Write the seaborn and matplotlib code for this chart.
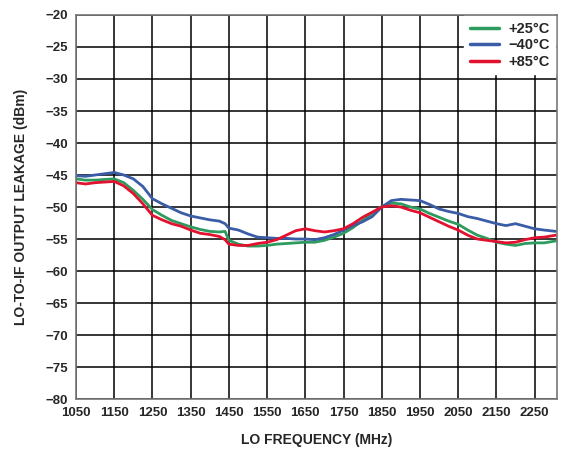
import numpy as np
import pandas as pd
import matplotlib
matplotlib.use("Agg")
import matplotlib.pyplot as plt
import seaborn as sns

freq = [1050, 1075, 1100, 1125, 1150, 1175, 1200, 1225, 1250, 1275, 1300, 1325,
        1350, 1375, 1400, 1425, 1440, 1450, 1475, 1500, 1525, 1550, 1575, 1600,
        1625, 1650, 1675, 1700, 1725, 1750, 1775, 1800, 1825, 1850, 1875, 1900,
        1925, 1950, 1975, 2000, 2025, 2050, 2075, 2100, 2125, 2150, 2175, 2200,
        2225, 2250, 2275, 2305]

leak_25 = [-45.6, -45.8, -45.8, -45.7, -45.6, -46.2, -47.4, -48.8, -50.4, -51.3, -52.1, -52.6,
           -53.1, -53.5, -53.8, -53.9, -53.8, -55.2, -55.8, -56.1, -56.1, -56.0, -55.8, -55.7,
           -55.6, -55.5, -55.5, -55.2, -54.7, -54.1, -53.2, -52.1, -51.0, -49.9, -49.4, -49.5,
           -50.0, -50.3, -51.0, -51.6, -52.2, -52.7, -53.6, -54.4, -54.9, -55.5, -55.8, -56.0,
           -55.7, -55.6, -55.6, -55.3]

leak_m40 = [-45.1, -45.2, -45.0, -44.8, -44.6, -45.0, -45.6, -46.8, -48.7, -49.5, -50.2, -50.9,
            -51.4, -51.7, -52.0, -52.2, -52.6, -53.3, -53.6, -54.2, -54.7, -54.8, -54.9, -54.9,
            -55.0, -55.0, -55.1, -54.8, -54.3, -53.6, -52.9, -52.3, -51.5, -50.0, -49.0, -48.8,
            -48.9, -49.0, -49.6, -50.3, -50.7, -51.0, -51.5, -51.8, -52.2, -52.6, -52.9, -52.6,
            -53.0, -53.4, -53.6, -53.8]

leak_85 = [-46.2, -46.4, -46.2, -46.1, -46.0, -46.7, -47.9, -49.5, -51.3, -52.0, -52.6, -53.0,
           -53.6, -54.1, -54.3, -54.6, -55.1, -55.8, -56.0, -56.0, -55.7, -55.5, -55.1, -54.4,
           -53.7, -53.4, -53.7, -53.9, -53.7, -53.4, -52.6, -51.6, -50.8, -50.0, -49.8, -50.0,
           -50.5, -50.9, -51.6, -52.3, -53.0, -53.6, -54.4, -55.0, -55.2, -55.4, -55.6, -55.5,
           -55.1, -54.8, -54.7, -54.4]

labels = ["+25°C", "\u221240°C", "+85°C"]
colors = ["#2e9b5e", "#3b5ca6", "#e2112f"]

df = pd.DataFrame({
    "freq": freq * 3,
    "leak": leak_25 + leak_m40 + leak_85,
    "temp": [labels[0]] * len(freq) + [labels[1]] * len(freq) + [labels[2]] * len(freq),
})

sns.set_style("white")
plt.rcParams["font.family"] = ["Liberation Sans", "DejaVu Sans"]
plt.rcParams["font.weight"] = "bold"

fig = plt.figure(figsize=(5.63, 4.54), dpi=100)
ax = fig.add_axes([0.135, 0.121, 0.854, 0.846])

sns.lineplot(data=df, x="freq", y="leak", hue="temp", hue_order=labels,
             palette=colors, linewidth=2.0, ax=ax)

ax.set_xlim(1050, 2308)
ax.set_ylim(-80, -20)
ax.set_xticks(np.arange(1050, 2251, 100))
ax.set_yticks(np.arange(-80, -19, 5))
ax.grid(True, color="black", linewidth=1.1)
ax.set_axisbelow(True)
for s in ax.spines.values():
    s.set_color("#777777")
    s.set_linewidth(1.2)
ax.tick_params(axis="both", length=0, labelsize=9.5, pad=6)
for t in ax.get_xticklabels() + ax.get_yticklabels():
    t.set_fontweight("bold")

ax.set_xlabel("LO FREQUENCY (MHz)", fontsize=10, fontweight="bold", labelpad=10)
ax.set_ylabel("LO-TO-IF OUTPUT LEAKAGE (dBm)", fontsize=10, fontweight="bold", labelpad=12)

leg = ax.legend(loc="upper right", frameon=True, fontsize=10.5, handlelength=2.0,
                borderaxespad=0.1, labelspacing=0.15, handletextpad=0.6,
                fancybox=False, framealpha=1.0)
leg.get_frame().set_edgecolor("white")
for t in leg.get_texts():
    t.set_fontweight("bold")
for l in leg.get_lines():
    l.set_linewidth(2.5)

fig.savefig("out.png", dpi=100)
